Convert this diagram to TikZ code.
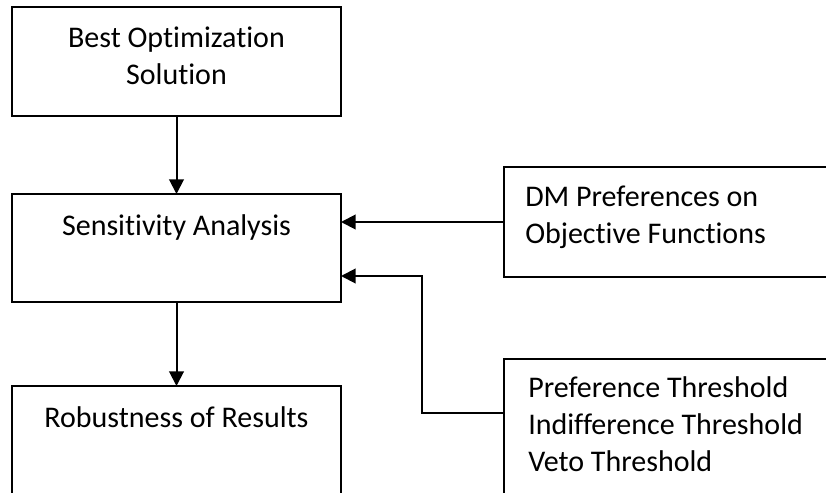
\documentclass[tikz,border=0pt]{standalone}
\usepackage{fontspec}
\setmainfont{Carlito}[Ligatures=NoCommon]
\usetikzlibrary{arrows.meta, positioning}

\tikzset{
    box/.style={draw, line width=1.5pt, outer sep=0pt, anchor=north west, minimum width=246.75pt},
    boxtext/.style={font=\fontsize{22.5}{28}\selectfont, inner sep=0pt},
    arrow/.style={line width=1.5pt, -{Triangle[length=11pt, width=11pt]}}
}

\begin{document}
\begin{tikzpicture}[x=0.75pt, y=-0.75pt]
    \useasboundingbox (0,0) rectangle (826,493);
    \clip (0,0) rectangle (826,493);

    % main chain of boxes on the left
    \node[box, minimum height=81.75pt] (best) at (12,7) {};
    \node[box, minimum height=81pt] (sens) at (12,194) {};
    \node[box, minimum height=90pt] (robust) at (12,386) {};

    % input boxes on the right, cut by the page edge
    \node[box, minimum width=260pt, minimum height=82.5pt] (prefs) at (504,167) {};
    \node[box, minimum width=260pt, minimum height=120pt] (thresh) at (504,359) {};

    % texts near the top of each box (base = last line)
    \node[boxtext, align=center, anchor=base] (besttext) at ([yshift=-58pt]best.north) {Best Optimization\\Solution};
    \node[boxtext, anchor=base] (senstext) at ([yshift=-30.75pt]sens.north) {Sensitivity Analysis};
    \node[boxtext, anchor=base] (robusttext) at ([yshift=-30.75pt]robust.north) {Robustness of Results};
    \node[boxtext, align=left, anchor=base west] (prefstext) at ([xshift=15.75pt, yshift=-57.25pt]prefs.north west) {DM Preferences on\\Objective Functions};
    \node[boxtext, align=left, anchor=base west] (threshtext) at ([xshift=18pt, yshift=-84.5pt]thresh.north west) {Preference Threshold\\Indifference Threshold\\Veto Threshold};

    % connectors
    \draw[arrow] (best.south) -- (sens.north);
    \draw[arrow] (sens.south) -- (robust.north);
    \draw[arrow] (prefs.west) -- (sens.east |- prefs.west);
    \coordinate (threshin) at ([yshift=-40.5pt]thresh.north west);
    \coordinate (bend) at (422,276);
    \draw[arrow] (threshin) -| (bend) -- (sens.east |- bend);
\end{tikzpicture}
\end{document}
